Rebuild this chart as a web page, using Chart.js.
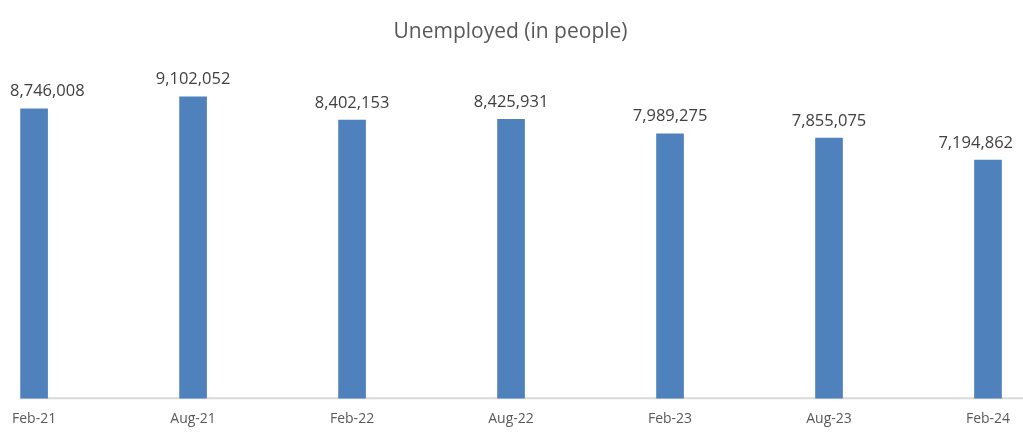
<!DOCTYPE html>
<html>
<head>
<meta charset="utf-8">
<script src="https://cdn.jsdelivr.net/npm/chart.js@4.4.1/dist/chart.umd.min.js"></script>
<style>
html,body{margin:0;padding:0;background:#fff;}
#wrap{width:1023px;height:442px;}
</style>
</head>
<body>
<div id="wrap"><canvas id="c" width="1023" height="442"></canvas></div>
<script>
const categories = ['Feb-21','Aug-21','Feb-22','Aug-22','Feb-23','Aug-23','Feb-24'];
const unemployed = [8746008, 9102052, 8402153, 8425931, 7989275, 7855075, 7194862];
const chartTitle = 'Unemployed (in people)';

const fmt = v => v.toLocaleString('en-US');

const labelPlugin = {
  id: 'barLabels',
  afterDatasetsDraw(chart) {
    const ctx = chart.ctx;
    const meta = chart.getDatasetMeta(0);
    ctx.save();
    ctx.font = '16.5px "Open Sans"';
    ctx.fillStyle = '#404040';
    ctx.textAlign = 'center';
    ctx.textBaseline = 'alphabetic';
    meta.data.forEach((el, i) => {
      const t = fmt(unemployed[i]);
      const w = ctx.measureText(t).width;
      let x = el.x;
      x = Math.max(10 + w / 2, Math.min(1013 - w / 2, x));
      ctx.fillText(t, x, el.y - 12.5);
    });
    ctx.restore();
  }
};

const baselinePlugin = {
  id: 'baseline',
  beforeDatasetsDraw(chart) {
    const ctx = chart.ctx;
    const y = chart.scales.y.getPixelForValue(0);
    ctx.save();
    ctx.strokeStyle = '#D9D9D9';
    ctx.lineWidth = 2;
    ctx.beginPath();
    ctx.moveTo(20, y);
    ctx.lineTo(chart.width, y);
    ctx.stroke();
    ctx.restore();
  }
};

new Chart(document.getElementById('c'), {
  type: 'bar',
  data: {
    labels: categories,
    datasets: [{
      data: unemployed,
      backgroundColor: '#4F81BD',
      borderWidth: 0,
      barThickness: 27,
      clip: false
    }]
  },
  options: {
    responsive: false,
    animation: false,
    layout: { padding: { left: 33, right: 35, top: 0, bottom: 3 } },
    plugins: {
      legend: { display: false },
      tooltip: { enabled: false },
      title: {
        display: true,
        text: chartTitle,
        color: '#595959',
        font: { family: 'Open Sans', size: 21, weight: 'normal' },
        padding: { top: 19, bottom: 23 }
      }
    },
    scales: {
      x: {
        offset: false,
        grid: { display: false, drawTicks: false },
        border: { display: false },
        ticks: {
          color: '#595959',
          font: { family: 'Open Sans', size: 14 },
          padding: 12,
          maxRotation: 0,
          autoSkip: false
        }
      },
      y: {
        display: false,
        min: 0,
        max: 10000000
      }
    }
  },
  plugins: [labelPlugin, baselinePlugin]
});
</script>
</body>
</html>
